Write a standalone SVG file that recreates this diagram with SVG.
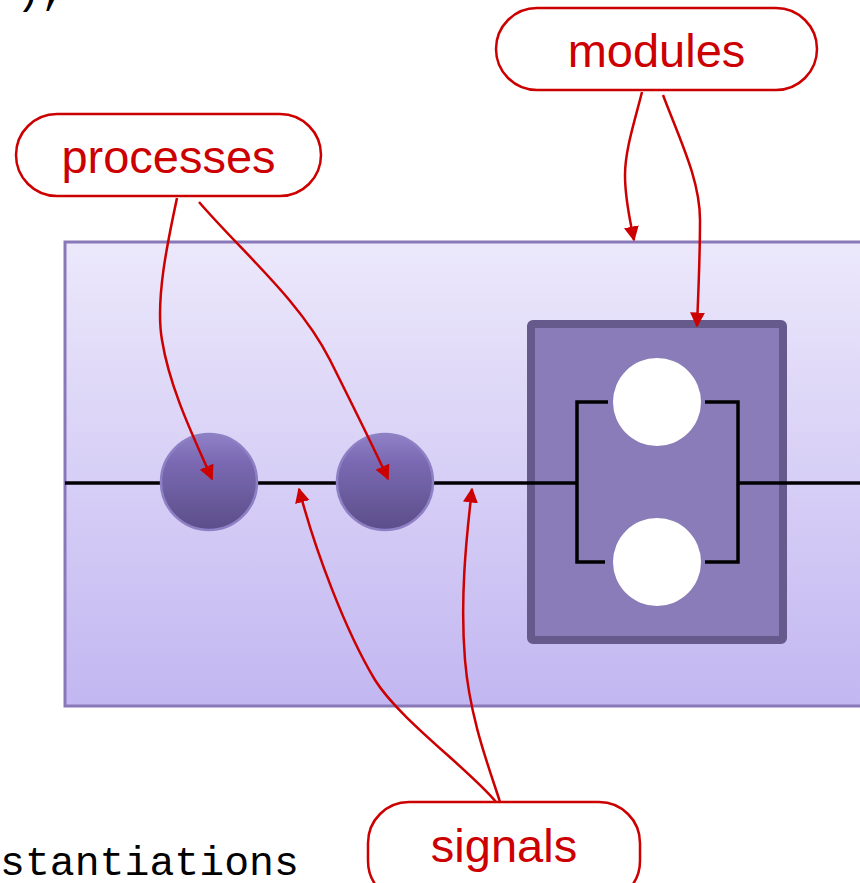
<svg xmlns="http://www.w3.org/2000/svg" width="860" height="883" viewBox="0 0 860 883">
  <defs>
    <linearGradient id="bgGrad" x1="0" y1="0" x2="0" y2="1">
      <stop offset="0" stop-color="#ece8fb"/>
      <stop offset="1" stop-color="#c2b7f1"/>
    </linearGradient>
    <linearGradient id="procGrad" x1="0" y1="0" x2="0" y2="1">
      <stop offset="0" stop-color="#8f80c6"/>
      <stop offset="0.3" stop-color="#7a69b2"/>
      <stop offset="1" stop-color="#5c4d8a"/>
    </linearGradient>
    <marker id="arrow" viewBox="0 0 10 10" refX="9" refY="5" markerWidth="6" markerHeight="6" markerUnits="strokeWidth" orient="auto">
      <path d="M0,0 L10,5 L0,10 z" fill="#cc0000"/>
    </marker>
    <style>
      .code { font-family: "Courier New", "Liberation Mono", monospace; font-size: 41.5px; fill: #000; }
      .label { font-family: "Liberation Sans", Arial, sans-serif; font-size: 47px; fill: #cc0000; text-anchor: middle; }
      .pill { fill: #fff; stroke: #cc0000; stroke-width: 2.5; }
      .wire { stroke: #000; stroke-width: 3.5; fill: none; }
      .callout { stroke: #cc0000; stroke-width: 2.5; fill: none; marker-end: url(#arrow); }
    </style>
  </defs>

  <!-- code fragments -->
  <text class="code" x="16" y="4">),</text>
  <text class="code" x="0" y="875">stantiations</text>

  <!-- enclosing architecture -->
  <g id="architecture">
    <rect x="65" y="242" width="810" height="464" fill="url(#bgGrad)" stroke="#8878b8" stroke-width="3"/>
  </g>

  <!-- component instance -->
  <g id="module">
    <rect x="531" y="324" width="252" height="316" rx="2" fill="#897cb8" stroke="#665a8c" stroke-width="8"/>
    <path class="wire" d="M608,402 H577 V562 H605"/>
    <path class="wire" d="M705,402 H738 V562 H705"/>
    <circle cx="657" cy="402" r="44" fill="#fff"/>
    <circle cx="657" cy="562" r="44" fill="#fff"/>
  </g>

  <!-- signal wires -->
  <g id="wires">
    <line class="wire" x1="65" y1="483" x2="577" y2="483"/>
    <line class="wire" x1="738" y1="483" x2="860" y2="483"/>
  </g>

  <!-- processes -->
  <g id="process1">
    <circle cx="209" cy="482" r="48" fill="url(#procGrad)" stroke="#8d80c4" stroke-width="2.5"/>
  </g>
  <g id="process2">
    <circle cx="385" cy="482" r="48" fill="url(#procGrad)" stroke="#8d80c4" stroke-width="2.5"/>
  </g>

  <!-- labels -->
  <g id="label-processes">
    <rect class="pill" x="16" y="114" width="305" height="82" rx="41"/>
    <text class="label" x="168.5" y="173">processes</text>
  </g>
  <g id="label-modules">
    <rect class="pill" x="496" y="8" width="321" height="82" rx="41"/>
    <text class="label" x="656.5" y="67">modules</text>
  </g>
  <g id="label-signals">
    <rect class="pill" x="368" y="802" width="272" height="100" rx="41"/>
    <text class="label" x="504" y="862">signals</text>
  </g>

  <!-- callout arrows -->
  <g id="connectors">
    <path class="callout" d="M177,198 C168,240 155,300 162,340 C170,390 195,440 212,479"/>
    <path class="callout" d="M199,202 C240,250 300,300 330,360 C350,400 375,450 388,479"/>
    <path class="callout" d="M642,92 C635,120 625,150 625,175 C625,200 630,220 634,240"/>
    <path class="callout" d="M663,95 C680,140 700,180 700,220 C700,260 698,300 697,326"/>
    <path class="callout" d="M496,802 C470,770 400,720 375,680 C345,630 315,550 299,489"/>
    <path class="callout" d="M500,802 C490,770 470,720 465,660 C460,600 466,540 472,489"/>
  </g>
</svg>
